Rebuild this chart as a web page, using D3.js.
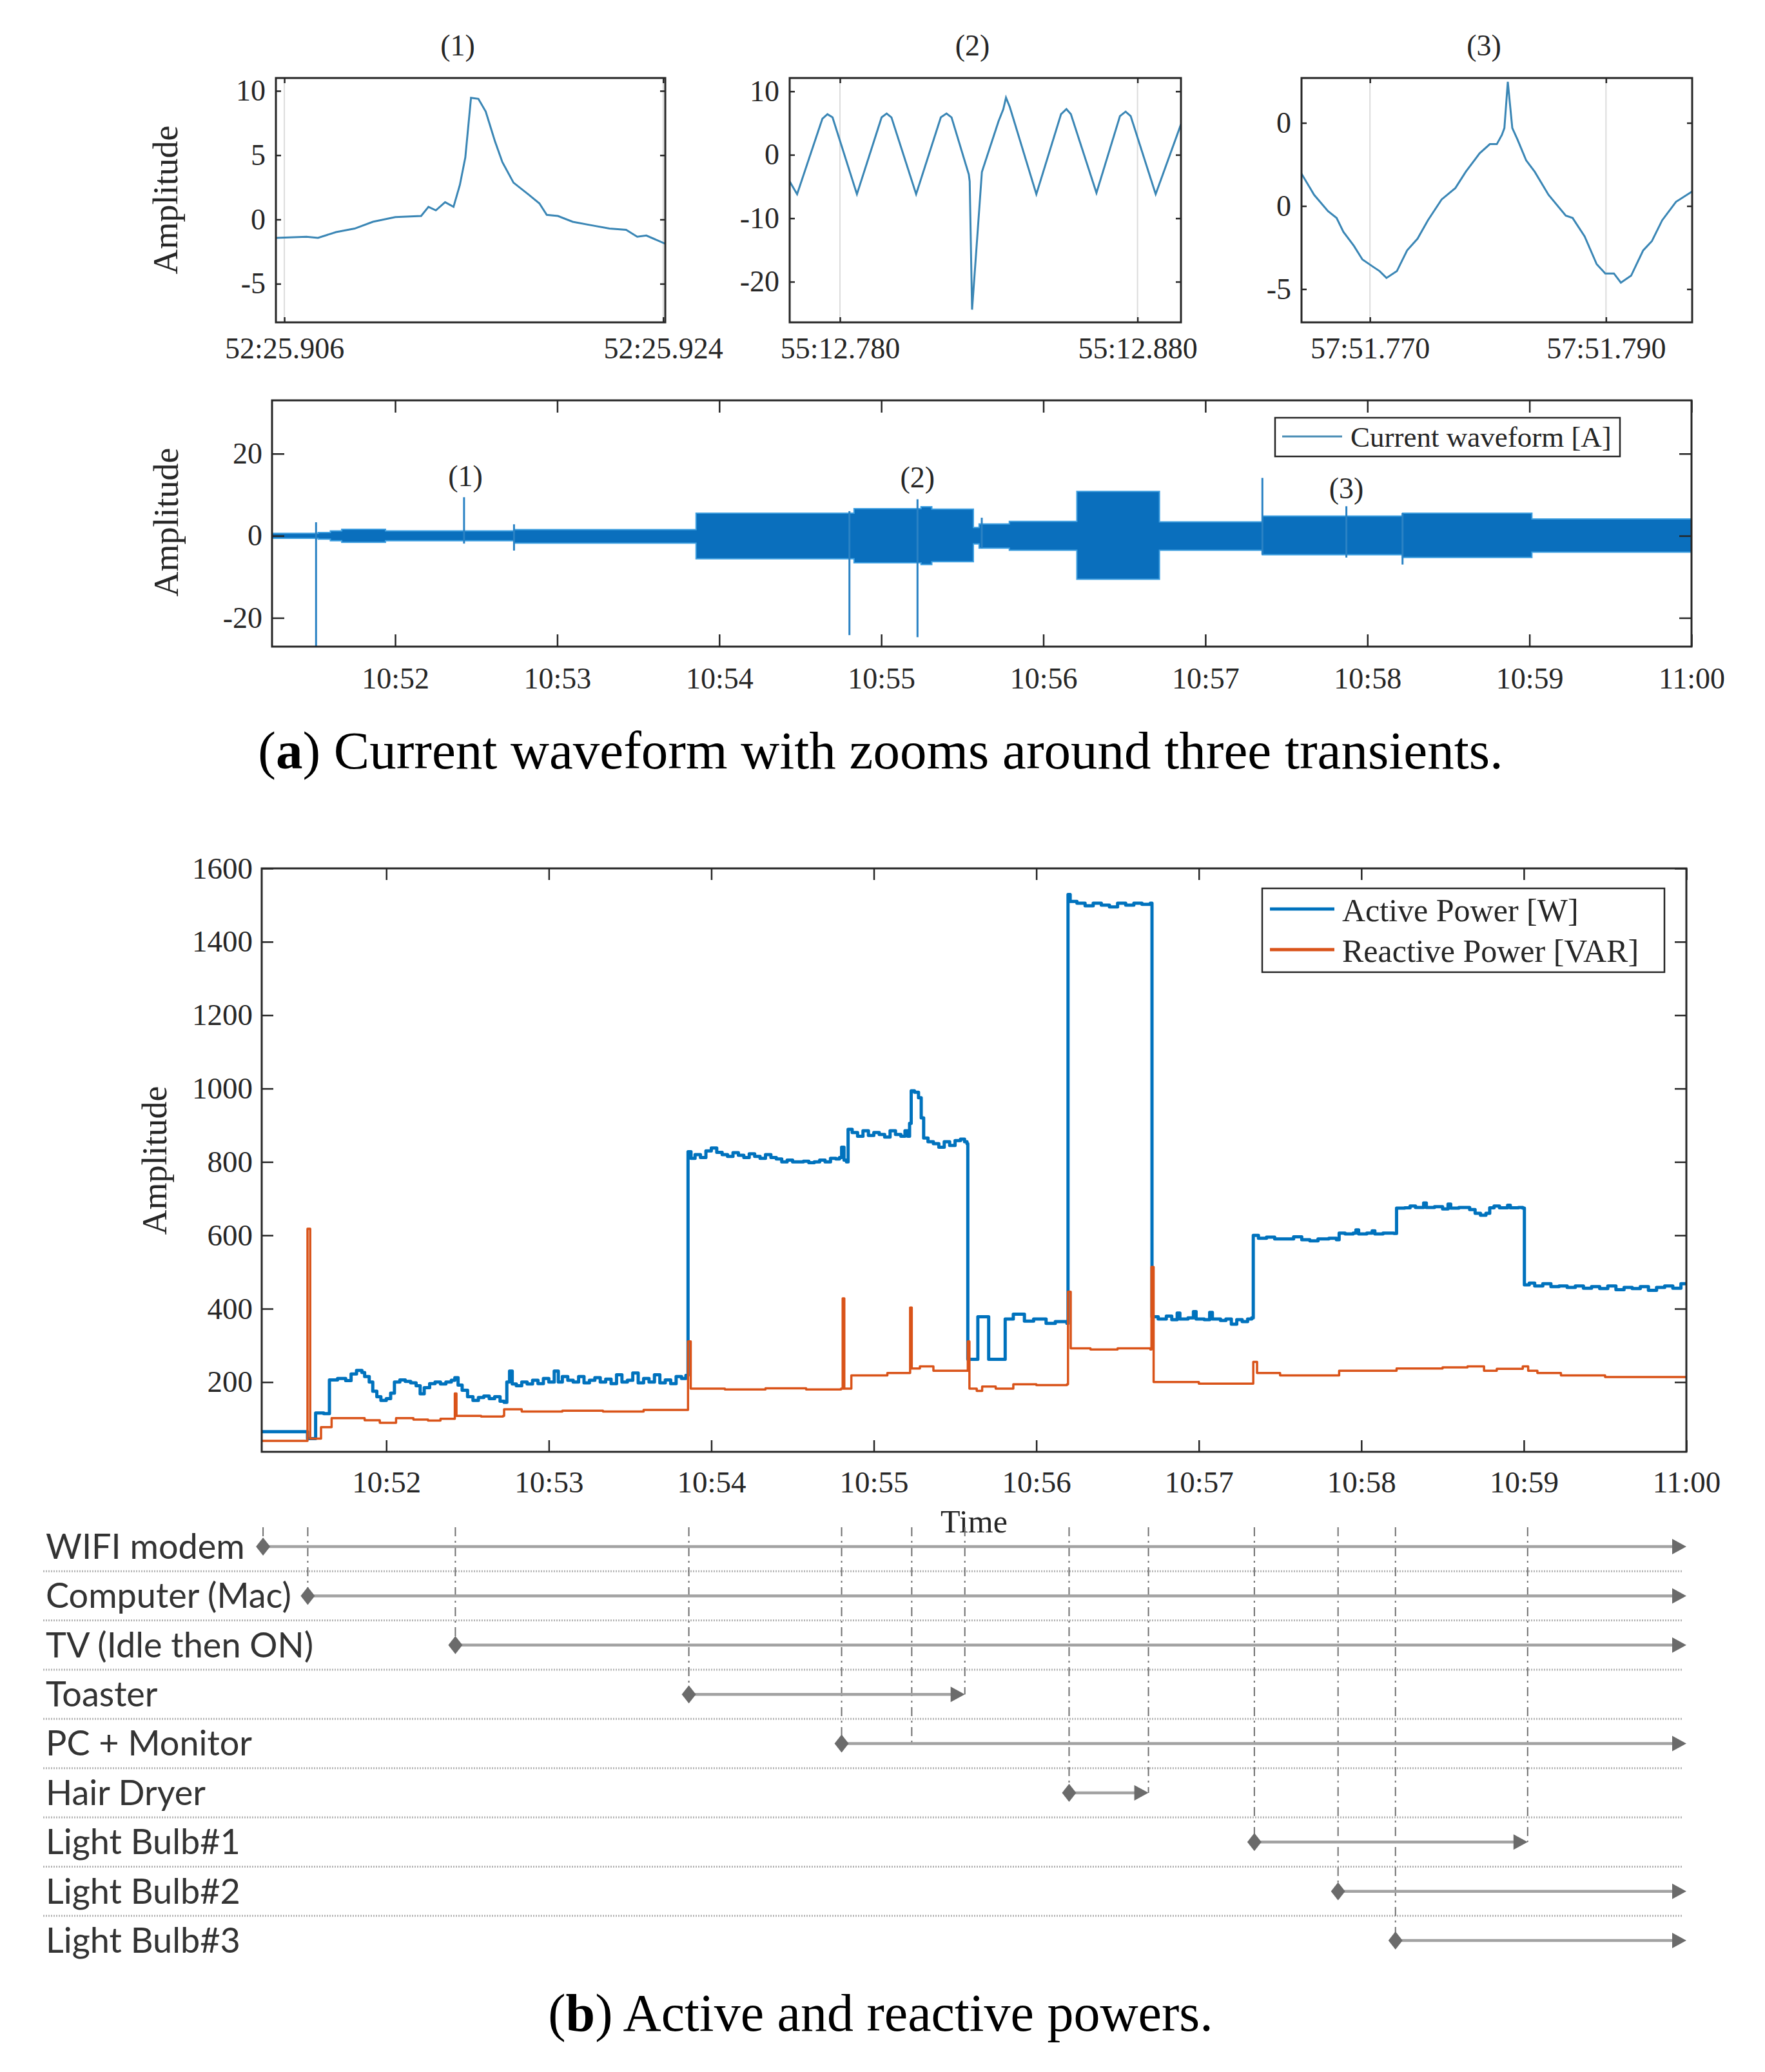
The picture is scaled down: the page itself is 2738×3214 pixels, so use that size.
<!DOCTYPE html>
<html>
<head>
<meta charset="utf-8">
<script src="https://cdn.jsdelivr.net/npm/d3@7"></script>
<style>
  body { margin: 0; background: #fff; }
</style>
</head>
<body>
<svg id="chart"></svg>
<script>
// ---------- data: the three zoomed transients ----------
const zoomTitles = ["(1)", "(2)", "(3)"];
const zoomMinutes = ["52", "55", "57"];

const zoom1Time = [25.9056, 25.90705, 25.9076, 25.90846, 25.90934, 25.91021, 25.91127, 25.9125, 25.91285, 25.9132, 25.91364, 25.91404, 25.91434, 25.9146, 25.91487, 25.91522, 25.91557, 25.91601, 25.91636, 25.91689, 25.91759, 25.91812, 25.91847, 25.919, 25.9197, 25.92058, 25.92145, 25.92224, 25.92277, 25.9232, 25.92409];
const zoom1Value = [-1.43, -1.34, -1.43, -0.98, -0.71, -0.18, 0.18, 0.27, 0.98, 0.71, 1.34, 0.98, 2.68, 4.82, 9.46, 9.38, 8.39, 6.07, 4.46, 2.86, 1.96, 1.25, 0.36, 0.27, -0.18, -0.45, -0.71, -0.8, -1.34, -1.25, -1.88];
const zoom1XTicks = [25.906, 25.924];
const zoom1YTicks = [10, 5, 0, -5];
const zoom1YLabels = ["10", "5", "0", "-5"];

const zoom2Time = [12.7631, 12.7656, 12.7741, 12.7758, 12.7775, 12.7857, 12.794, 12.7957, 12.7973, 12.8056, 12.8139, 12.8158, 12.8175, 12.8233, 12.8236, 12.8244, 12.8277, 12.8333, 12.8349, 12.8358, 12.8371, 12.846, 12.8543, 12.8561, 12.8576, 12.8662, 12.8741, 12.876, 12.8777, 12.8861, 12.8946];
const zoom2Value = [-4.2, -6.2, 5.7, 6.4, 5.9, -6.2, 5.9, 6.5, 5.9, -6.2, 5.9, 6.5, 5.9, -3.1, -4.2, -24.4, -2.7, 5.3, 7.2, 9.0, 7.5, -6.2, 6.4, 7.2, 6.4, -6.0, 6.1, 6.8, 6.1, -6.2, 4.8];
const zoom2XTicks = [12.78, 12.88];
const zoom2YTicks = [10, 0, -10, -20];
const zoom2YLabels = ["10", "0", "-10", "-20"];

const zoom3Time = [51.76416, 51.76527, 51.76644, 51.76717, 51.76775, 51.76863, 51.76936, 51.77023, 51.77082, 51.7714, 51.77228, 51.77315, 51.77403, 51.77491, 51.77607, 51.77724, 51.77812, 51.77929, 51.78016, 51.78075, 51.78118, 51.78139, 51.78168, 51.78206, 51.7825, 51.78323, 51.78396, 51.78513, 51.78659, 51.78717, 51.78819, 51.78921, 51.78994, 51.79067, 51.79126, 51.79213, 51.79315, 51.79389, 51.79476, 51.79593, 51.7973];
const zoom3Value = [1.99, 0.67, -0.31, -0.72, -1.56, -2.39, -3.22, -3.64, -3.92, -4.33, -3.92, -2.67, -1.97, -0.86, 0.39, 1.08, 2.06, 3.17, 3.72, 3.72, 4.28, 4.69, 7.47, 4.69, 4.0, 2.75, 2.06, 0.67, -0.58, -0.72, -1.83, -3.5, -4.06, -4.06, -4.61, -4.19, -2.67, -2.11, -0.86, 0.25, 0.875];
const zoom3XTicks = [51.77, 51.79];
const zoom3YTicks = [5, 0, -5];
const zoom3YLabels = ["0", "0", "-5"];

// ---------- data: whole current waveform (seconds after 10:51:00) ----------
const bandStart = [14.4, 31.5, 36, 40.2, 56.4, 104.0, 171.4, 229.9, 254.7, 258.7, 274.1, 276.2, 287.4, 312.4, 343.0, 381.1, 433.0, 480.9, 540];
const bandHi = [0.6, 0.8, 1.2, 1.6, 1.2, 1.5, 5.5, 6.6, 7.1, 6.5, 2.0, 2.9, 3.5, 10.8, 3.4, 4.8, 5.5, 4.1, 4.1];
const bandLo = [-0.6, -0.8, -1.2, -1.6, -1.2, -1.8, -5.6, -6.6, -7.0, -6.3, -2.0, -3.0, -3.5, -10.6, -3.5, -4.6, -5.3, -4.0, -4.0];
const spikeTime = [30.7, 85.5, 104.0, 228.2, 253.4, 277.2, 381.1, 412.2, 433.0];
const spikeHi = [3.3, 9.4, 2.8, 6.0, 8.9, 4.4, 14.1, 7.2, 5.5];
const spikeLo = [-27, -1.9, -3.6, -24.2, -24.7, -3.0, -4.6, -5.3, -7.0];
const annoText = ["(1)", "(2)", "(3)"];
const annoTime = [86, 253.4, 412.2];
const annoValue = [14.5, 14.2, 11.6];
const waveYTicks = [-20, 0, 20];

// ---------- data: active / reactive power (seconds after 10:51:00) ----------
const activeTime = [13.7, 29.9, 30.9, 33.5, 33.9, 36.9, 39, 42, 45, 47, 49, 51, 52, 53.7, 55, 56.5, 58, 60, 61.6, 63, 65, 67, 69, 71, 72.5, 74, 76, 78, 80, 82, 84, 85.3, 86.5, 88, 90, 92, 94, 96, 98, 100, 102, 103.5, 104.5, 105.5, 106.5, 108, 110, 112, 114, 116, 118, 120, 122, 123.5, 125, 127, 129, 131, 133, 135, 137, 139, 141, 143, 145, 147, 149, 151, 153, 155, 157, 159, 161, 163, 165, 167, 169, 170.6,
  171.4, 172.5, 174, 176, 178, 180, 182, 184, 186, 188, 190, 192, 194, 196, 198, 200, 202, 204, 206, 208, 210, 212, 214, 216, 218, 220, 222, 224, 226, 227.3, 228.1, 229, 229.9, 230.5, 232, 234, 236, 238, 240, 242, 244, 246, 248, 250, 251.5, 252.5, 253.2, 253.8, 255, 256.5, 257.5, 258.4, 260, 262, 264, 266, 268, 270, 272, 273.5, 274.4,
  274.7, 277.4, 278.4, 281.4, 282.4, 287.5, 288.5, 291.5, 295.6, 299, 303.6, 307, 311.3,
  311.7, 312.5, 315, 318, 321, 324, 327, 330, 333, 336, 339, 342.1,
  342.7, 345, 348, 350, 352, 353, 356, 358, 359, 362, 364, 365, 368, 370, 372, 374, 376, 378, 379.5,
  380.1, 382, 385, 388, 392, 395, 398, 401, 404, 408, 410.8, 411.8, 414, 417, 418, 419, 422, 424, 425, 428, 432,
  433, 436, 438, 440, 443, 444, 447, 450, 452, 453, 456, 460, 462, 464, 466, 467.4, 469, 471, 474, 475, 478, 479.6,
  480.2, 482, 484, 487, 490, 493, 496, 499, 502, 505, 508, 511, 514, 517, 520, 523, 526, 529, 532, 535, 538, 540];
const activeValue = [65, 65, 46, 46, 116, 114, 206, 210, 204, 222, 232, 226, 215, 200, 175, 160, 150, 155, 170, 200, 206, 202, 198, 190, 168, 185, 196, 200, 195, 200, 205, 212, 192, 178, 160, 150, 158, 162, 155, 160, 148, 145, 200, 230, 195, 190, 200, 195, 205, 196, 210, 200, 230, 200, 215, 205, 200, 215, 198, 205, 212, 200, 208, 196, 220, 200, 205, 225, 198, 210, 200, 220, 198, 206, 196, 215, 210, 218,
  828, 810, 820, 812, 830, 838, 826, 820, 815, 825, 818, 812, 822, 815, 810, 820, 812, 808, 800, 805, 800, 800, 802, 798, 800, 805, 800, 810, 808, 812, 840, 805, 800, 889, 880, 870, 885, 872, 880, 875, 868, 885, 875, 870, 885, 870, 905, 994, 990, 975, 920, 865, 855, 850, 840, 855, 845, 858, 862, 855, 850,
  262, 262, 378, 378, 262, 262, 372, 385, 366, 372, 360, 365, 360,
  1529, 1510, 1505, 1498, 1505, 1500, 1495, 1505, 1500, 1505, 1502, 1505,
  378, 372, 380, 370, 388, 372, 375, 392, 372, 370, 390, 372, 368, 372, 358, 370, 365, 372, 375,
  600, 592, 595, 590, 590, 596, 588, 585, 590, 592, 588, 606, 604, 606, 615, 604, 606, 612, 604, 606, 605,
  674, 675, 680, 676, 688, 676, 678, 672, 685, 674, 676, 670, 660, 655, 660, 675, 680, 675, 682, 675, 676, 674,
  465, 470, 462, 468, 460, 462, 458, 462, 456, 460, 455, 462, 452, 458, 455, 460, 450, 458, 462, 456, 468, 465];
const reactiveTime = [13.7, 29.9, 30.5, 30.9, 31.9, 33.9, 35.9, 39.8, 47.8, 52, 57.6, 63.6, 70, 75.4, 80, 84.7, 85.3, 85.9, 95, 103.1, 103.5, 110, 125, 140, 155, 170.4, 171.0, 171.4, 172.4, 185, 200, 215, 227.9, 228.5, 229.1, 231.7, 245, 253.0, 253.4, 254.0, 257, 262, 274.3, 274.7, 275.3, 278, 280, 285, 291.5, 300, 311.3, 311.7, 312.7, 320, 330, 342.1, 342.5, 343.3, 360, 379.5, 380.1, 381.5, 390, 410.8, 411.8, 433.0, 450, 459.2, 465.3, 470, 479.6, 481.6, 485, 493.7, 510, 540];
const reactiveValue = [40, 40, 40, 618, 46, 46, 77, 102, 102, 96, 89, 102, 98, 95, 100, 100, 169, 108, 106, 108, 126, 120, 122, 120, 124, 124, 124, 311, 182, 180, 183, 180, 182, 428, 182, 218, 225, 225, 403, 237, 243, 231, 231, 311, 182, 176, 188, 182, 194, 192, 194, 446, 292, 289, 292, 289, 514, 200, 196, 196, 255, 225, 218, 218, 231, 237, 240, 243, 231, 236, 243, 231, 225, 218, 214, 212];
const powerYTicks = [200, 400, 600, 800, 1000, 1200, 1400, 1600];
const powerSeries = ["Active Power [W]", "Reactive Power [VAR]"];

// ---------- data: appliance timeline ----------
const appliances = ["WIFI modem", "Computer (Mac)", "TV (Idle then ON)", "Toaster", "PC + Monitor", "Hair Dryer", "Light Bulb#1", "Light Bulb#2", "Light Bulb#3"];
const applianceOn = [14.5, 31.0, 85.5, 171.7, 228.1, 312.1, 380.5, 411.4, 432.6];
const applianceOff = [540, 540, 540, 273.6, 540, 341.4, 481.4, 540, 540];
const eventTime = [14.5, 31.0, 85.5, 171.7, 228.1, 254.0, 273.6, 312.1, 341.4, 380.5, 411.4, 432.6, 481.4];
const eventRow = [0, 1, 2, 3, 4, 4, 3, 5, 5, 6, 7, 8, 6];

// ---------- setup ----------
const width = 2738;
const height = 3214;
const serif = "'Liberation Serif', 'DejaVu Serif', serif";
const ink = "#262626";
const base = new Date(2020, 0, 1, 10, 51, 0);
const toDate = (s) => new Date(base.getTime() + s * 1000);

const svg = d3.select("#chart").attr("width", width).attr("height", height);
svg.append("rect").attr("width", width).attr("height", height).attr("fill", "#fff");

function styleAxis(sel, size) {
  sel.select(".domain").remove();
  sel.selectAll(".tick line").attr("stroke", ink).attr("stroke-width", 2.5);
  sel.selectAll(".tick text").attr("fill", ink).attr("font-family", serif).attr("font-size", size);
}

// frame with inward ticks on all four sides, labels on bottom and left
function drawBox(g, x, y, o) {
  const [x0, x1] = x.range();
  const [y0, y1] = y.range();
  g.append("g").attr("transform", `translate(0,${y0})`)
    .call(d3.axisBottom(x).tickValues(o.xTicks).tickFormat(o.xFmt).tickSizeInner(-o.tick).tickSizeOuter(0).tickPadding(o.xPad))
    .call(styleAxis, o.size);
  g.append("g").attr("transform", `translate(0,${y1})`)
    .call(d3.axisTop(x).tickValues(o.xTicks).tickFormat("").tickSizeInner(-o.tick).tickSizeOuter(0))
    .call(styleAxis, o.size);
  g.append("g").attr("transform", `translate(${x0},0)`)
    .call(d3.axisLeft(y).tickValues(o.yTicks).tickFormat(o.yFmt).tickSizeInner(-o.tick).tickSizeOuter(0).tickPadding(o.yPad))
    .call(styleAxis, o.size);
  g.append("g").attr("transform", `translate(${x1},0)`)
    .call(d3.axisRight(y).tickValues(o.yTicks).tickFormat("").tickSizeInner(-o.tick).tickSizeOuter(0))
    .call(styleAxis, o.size);
  g.append("rect")
    .attr("x", x0).attr("y", y1).attr("width", x1 - x0).attr("height", y0 - y1)
    .attr("fill", "none").attr("stroke", ink).attr("stroke-width", 3);
}

function yLabel(x, y, text, size) {
  svg.append("text")
    .attr("transform", `translate(${x},${y}) rotate(-90)`)
    .attr("text-anchor", "middle").attr("dominant-baseline", "central")
    .attr("font-family", serif).attr("font-size", size).attr("fill", ink)
    .text(text);
}

function clip(id, x, y) {
  svg.append("clipPath").attr("id", id).append("rect")
    .attr("x", x.range()[0]).attr("y", y.range()[1])
    .attr("width", x.range()[1] - x.range()[0]).attr("height", y.range()[0] - y.range()[1]);
}

// ---------- (a) top: three zooms ----------
const zooms = [
  { time: zoom1Time, value: zoom1Value, xTicks: zoom1XTicks, yTicks: zoom1YTicks, yLabels: zoom1YLabels, xDomain: [25.9056, 25.9241], yDomain: [-8, 11], left: 428, right: 1032 },
  { time: zoom2Time, value: zoom2Value, xTicks: zoom2XTicks, yTicks: zoom2YTicks, yLabels: zoom2YLabels, xDomain: [12.7631, 12.8946], yDomain: [-26.4, 12.1], left: 1225, right: 1832 },
  { time: zoom3Time, value: zoom3Value, xTicks: zoom3XTicks, yTicks: zoom3YTicks, yLabels: zoom3YLabels, xDomain: [51.7642, 51.7973], yDomain: [-7, 7.7], left: 2019, right: 2625 }
];

zooms.forEach((z, i) => {
  const x = d3.scaleLinear().domain(z.xDomain).range([z.left, z.right]);
  const y = d3.scaleLinear().domain(z.yDomain).range([500, 121]);
  const g = svg.append("g");
  clip("zclip" + i, x, y);

  // faint vertical grid at the x ticks
  g.selectAll(".grid").data(z.xTicks).enter().append("line")
    .attr("x1", (d) => x(d)).attr("x2", (d) => x(d))
    .attr("y1", y.range()[0]).attr("y2", y.range()[1])
    .attr("stroke", "#dcdcdc").attr("stroke-width", 2);

  g.append("path")
    .datum(z.time.map((t, k) => [t, z.value[k]]))
    .attr("clip-path", `url(#zclip${i})`)
    .attr("fill", "none").attr("stroke", "#3a86b5").attr("stroke-width", 3)
    .attr("d", d3.line().x((d) => x(d[0])).y((d) => y(d[1])));

  drawBox(g, x, y, {
    xTicks: z.xTicks, yTicks: z.yTicks,
    xFmt: (d) => zoomMinutes[i] + ":" + d.toFixed(3),
    yFmt: (d, k) => z.yLabels[k],
    tick: 8, xPad: 23, yPad: 16, size: 46
  });

  svg.append("text")
    .attr("x", (z.left + z.right) / 2 - 20).attr("y", 70)
    .attr("text-anchor", "middle").attr("dominant-baseline", "central")
    .attr("font-family", serif).attr("font-size", 46).attr("fill", ink)
    .text(zoomTitles[i]);
});
yLabel(257, 310, "Amplitude", 54);

// ---------- (a) bottom: full waveform ----------
const waveX = d3.scaleTime().domain([toDate(14.4), toDate(540)]).range([422, 2624]);
const waveY = d3.scaleLinear().domain([-27, 33]).range([1003, 621]);
const minuteTicks = d3.timeMinute.range(toDate(60), toDate(541));
const wave = svg.append("g");
clip("waveclip", waveX, waveY);

const band = bandStart.map((s, i) => ({ t: s, hi: bandHi[i], lo: bandLo[i] }));
wave.append("path")
  .datum(band)
  .attr("clip-path", "url(#waveclip)")
  .attr("fill", "#0a6fbd").attr("stroke", "#3f9fe0").attr("stroke-width", 2)
  .attr("d", d3.area()
    .x((d) => waveX(toDate(d.t)))
    .y0((d) => waveY(d.lo))
    .y1((d) => waveY(d.hi))
    .curve(d3.curveStepAfter));

wave.selectAll(".spike").data(spikeTime).enter().append("line")
  .attr("clip-path", "url(#waveclip)")
  .attr("x1", (d) => waveX(toDate(d))).attr("x2", (d) => waveX(toDate(d)))
  .attr("y1", (d, i) => waveY(spikeHi[i])).attr("y2", (d, i) => waveY(spikeLo[i]))
  .attr("stroke", "#2a82c4").attr("stroke-width", 3);

wave.selectAll(".anno").data(annoText).enter().append("text")
  .attr("x", (d, i) => waveX(toDate(annoTime[i])))
  .attr("y", (d, i) => waveY(annoValue[i]))
  .attr("text-anchor", "middle").attr("dominant-baseline", "central")
  .attr("font-family", serif).attr("font-size", 46).attr("fill", ink)
  .text((d) => d);

drawBox(wave, waveX, waveY, {
  xTicks: minuteTicks, yTicks: waveYTicks,
  xFmt: d3.timeFormat("%H:%M"), yFmt: (d) => d,
  tick: 19, xPad: 32, yPad: 15, size: 46
});
yLabel(258, 810, "Amplitude", 54);

// legend of the waveform
const wl = wave.append("g");
wl.append("rect").attr("x", 1978).attr("y", 648).attr("width", 535).attr("height", 60)
  .attr("fill", "#fff").attr("stroke", ink).attr("stroke-width", 2.5);
wl.append("line").attr("x1", 1989).attr("x2", 2082).attr("y1", 677).attr("y2", 677)
  .attr("stroke", "#4a8db5").attr("stroke-width", 3);
wl.append("text").attr("x", 2095).attr("y", 678).attr("dominant-baseline", "central")
  .attr("font-family", serif).attr("font-size", 45).attr("fill", ink)
  .text("Current waveform [A]");

// caption (a)
const capA = svg.append("text").attr("x", 1366).attr("y", 1192).attr("text-anchor", "middle")
  .attr("font-family", serif).attr("font-size", 83).attr("fill", "#000");
capA.append("tspan").text("(");
capA.append("tspan").attr("font-weight", "bold").text("a");
capA.append("tspan").text(") Current waveform with zooms around three transients.");

// ---------- (b) active & reactive power ----------
const powerX = d3.scaleTime().domain([toDate(14), toDate(540)]).range([406, 2616]);
const powerY = d3.scaleLinear().domain([10, 1600]).range([2252, 1347]);
const power = svg.append("g");
clip("powerclip", powerX, powerY);

const powerLine = d3.line()
  .x((d) => powerX(toDate(d[0])))
  .y((d) => powerY(d[1]))
  .curve(d3.curveStepAfter);
const powerColors = ["#0072BD", "#D95319"];
const powerWidths = [5, 3.5];
const powerData = [
  activeTime.map((t, i) => [t, activeValue[i]]),
  reactiveTime.map((t, i) => [t, reactiveValue[i]])
];
powerData.forEach((pts, i) => {
  power.append("path").datum(pts)
    .attr("clip-path", "url(#powerclip)")
    .attr("fill", "none").attr("stroke", powerColors[i]).attr("stroke-width", powerWidths[i])
    .attr("stroke-linejoin", "round")
    .attr("d", powerLine);
});

drawBox(power, powerX, powerY, {
  xTicks: minuteTicks, yTicks: powerYTicks,
  xFmt: d3.timeFormat("%H:%M"), yFmt: (d) => d,
  tick: 18, xPad: 30, yPad: 14, size: 47
});
yLabel(240, 1800, "Amplitude", 54);
svg.append("text").attr("x", 1511).attr("y", 2360).attr("text-anchor", "middle")
  .attr("dominant-baseline", "central")
  .attr("font-family", serif).attr("font-size", 50).attr("fill", ink).text("Time");

// legend of the powers
const pl = power.append("g");
pl.append("rect").attr("x", 1958).attr("y", 1378).attr("width", 624).attr("height", 130)
  .attr("fill", "#fff").attr("stroke", ink).attr("stroke-width", 2.5);
powerSeries.forEach((name, i) => {
  const yy = 1410 + i * 63;
  pl.append("line").attr("x1", 1970).attr("x2", 2070).attr("y1", yy).attr("y2", yy)
    .attr("stroke", powerColors[i]).attr("stroke-width", 5);
  pl.append("text").attr("x", 2082).attr("y", yy + 2).attr("dominant-baseline", "central")
    .attr("font-family", serif).attr("font-size", 50).attr("fill", ink).text(name);
});

// ---------- appliance timeline ----------
const rowY = d3.scalePoint().domain(appliances).range([2399, 3010]);
const step = rowY.step();
const tl = svg.append("g");
const sans = "Lato, 'Open Sans', sans-serif";

// dotted separators between rows
tl.selectAll(".sep").data(appliances.slice(0, -1)).enter().append("line")
  .attr("x1", 67).attr("x2", powerX(toDate(540)) - 5)
  .attr("y1", (d) => rowY(d) + step / 2).attr("y2", (d) => rowY(d) + step / 2)
  .attr("stroke", "#b4b4b4").attr("stroke-width", 3).attr("stroke-dasharray", "2,2");

// dash-dot event lines
tl.selectAll(".event").data(eventTime).enter().append("line")
  .attr("x1", (d) => powerX(toDate(d))).attr("x2", (d) => powerX(toDate(d)))
  .attr("y1", rowY(appliances[0]) - 30)
  .attr("y2", (d, i) => rowY(appliances[eventRow[i]]))
  .attr("stroke", "#707070").attr("stroke-width", 2).attr("stroke-dasharray", "14,7,3,7");

// appliance on/off arrows
appliances.forEach((name, i) => {
  const y = rowY(name);
  const xa = powerX(toDate(applianceOn[i]));
  const xb = powerX(toDate(applianceOff[i]));
  tl.append("line").attr("x1", xa).attr("x2", xb - 12).attr("y1", y).attr("y2", y)
    .attr("stroke", "#a2a2a2").attr("stroke-width", 4.5);
  tl.append("path")
    .attr("d", `M${xa},${y - 14}L${xa + 11},${y}L${xa},${y + 14}L${xa - 11},${y}Z`)
    .attr("fill", "#6b6b6b");
  tl.append("path")
    .attr("d", `M${xb},${y}L${xb - 22},${y - 12}L${xb - 22},${y + 12}Z`)
    .attr("fill", "#6b6b6b");
  tl.append("text").attr("x", 71).attr("y", y).attr("dy", "0.35em")
    .attr("font-family", sans).attr("font-size", 54).attr("fill", "#333")
    .text(name);
});

// caption (b)
const capB = svg.append("text").attr("x", 1366).attr("y", 3150).attr("text-anchor", "middle")
  .attr("font-family", serif).attr("font-size", 82).attr("fill", "#000");
capB.append("tspan").text("(");
capB.append("tspan").attr("font-weight", "bold").text("b");
capB.append("tspan").text(") Active and reactive powers.");
</script>
</body>
</html>
